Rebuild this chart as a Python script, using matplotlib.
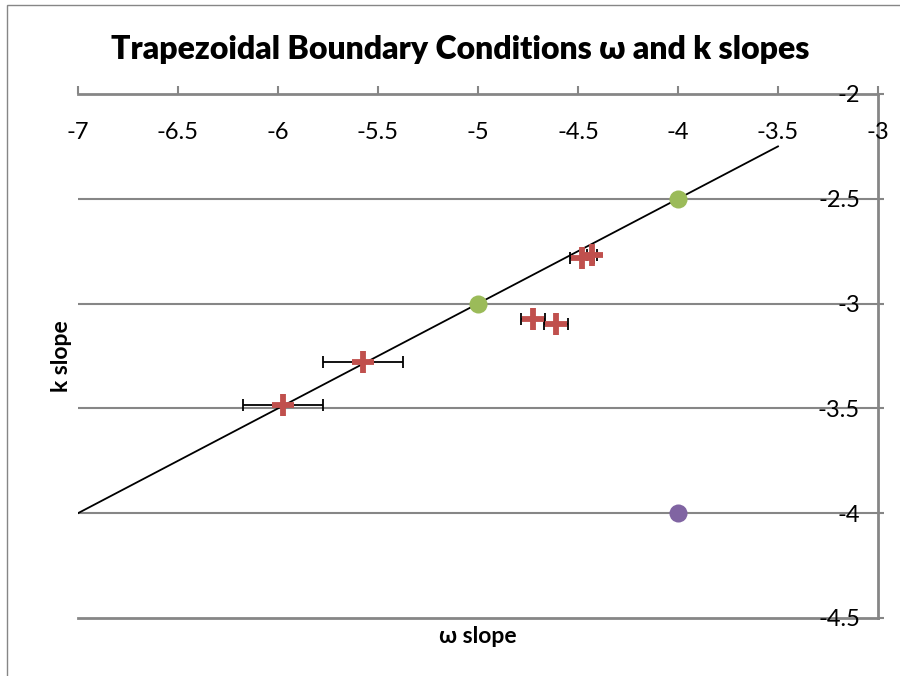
import numpy as np
import matplotlib.pyplot as plt
from matplotlib.patches import Rectangle

plt.rcParams['font.family'] = ['Lato', 'DejaVu Sans']

# measured slopes with x uncertainty
W_SLOPE = [-4.48, -4.43, -4.725, -4.61, -5.573, -5.973]
K_SLOPE = [-2.784, -2.768, -3.073, -3.097, -3.277, -3.484]
W_ERR = [0.06, 0.025, 0.06, 0.06, 0.2, 0.2]

# reference points
GREEN_X = [-4, -5]
GREEN_Y = [-2.5, -3]
PURPLE_X = [-4]
PURPLE_Y = [-4]

# fitted line
LINE_X = [-7, -3.5]
LINE_Y = [-4, -2.25]

XTICKS = [-7, -6.5, -6, -5.5, -5, -4.5, -4, -3.5, -3]
YTICKS = [-2, -2.5, -3, -3.5, -4, -4.5]

GREY = '#868686'

fig = plt.figure(figsize=(9, 6.76), dpi=100)
ax = fig.add_axes([78/900, 1-618/676, 800/900, 524/676])

for y in YTICKS[1:-1]:
    ax.axhline(y, color=GREY, lw=1.5, zorder=1)

ax.plot(LINE_X, LINE_Y, color='black', lw=1.3, zorder=2)
ax.errorbar(W_SLOPE, K_SLOPE, xerr=W_ERR, fmt='none', ecolor='black',
            elinewidth=1.3, capsize=4, capthick=1.3, zorder=3)
ax.plot(W_SLOPE, K_SLOPE, linestyle='none', marker='+', markersize=16,
        color='#C0504D', markeredgewidth=4.2, zorder=4)
ax.plot(GREEN_X, GREEN_Y, linestyle='none', marker='o', markersize=13,
        color='#9BBB59', markeredgewidth=0, zorder=4)
ax.plot(PURPLE_X, PURPLE_Y, linestyle='none', marker='o', markersize=13,
        color='#8064A2', markeredgewidth=0, zorder=4)

ax.set_xlim(-7, -3)
ax.set_ylim(-4.5, -2)
ax.set_xticks(XTICKS)
ax.set_xticklabels([f'{v:g}' for v in XTICKS])
ax.set_yticks(YTICKS)
ax.set_yticklabels([f'{v:g}' for v in YTICKS])

ax.spines['left'].set_visible(False)
for s in ['top', 'right', 'bottom']:
    ax.spines[s].set_color(GREY)
    ax.spines[s].set_linewidth(2)
    ax.spines[s].set_zorder(1)

ax.xaxis.set_ticks_position('top')
ax.tick_params(axis='x', direction='out', length=6, width=1.5, color=GREY,
               labelsize=17, pad=-26, labeltop=True, labelbottom=False)
for lab in ax.get_xticklabels():
    lab.set_verticalalignment('top')

ax.yaxis.set_ticks_position('right')
ax.tick_params(axis='y', direction='out', length=4, width=1.5, color=GREY,
               labelsize=17, pad=-17, labelright=True, labelleft=False)
for lab in ax.get_yticklabels():
    lab.set_horizontalalignment('right')

ax.set_xlabel('ω slope', fontsize=16.5, fontweight='bold', labelpad=6)
ax.set_ylabel('k slope', fontsize=16.5, fontweight='bold', labelpad=4)
ax.yaxis.set_label_position('left')

fig.text(0.511, 1-50/676, 'Trapezoidal Boundary Conditions ω and k slopes',
         ha='center', va='center', fontsize=23, fontweight='heavy')

fig.add_artist(Rectangle((7/900, -0.1), 1.2, 1.1 - 5/676, transform=fig.transFigure,
                         fill=False, edgecolor=GREY, lw=1))

fig.savefig('out.png', dpi=100)
